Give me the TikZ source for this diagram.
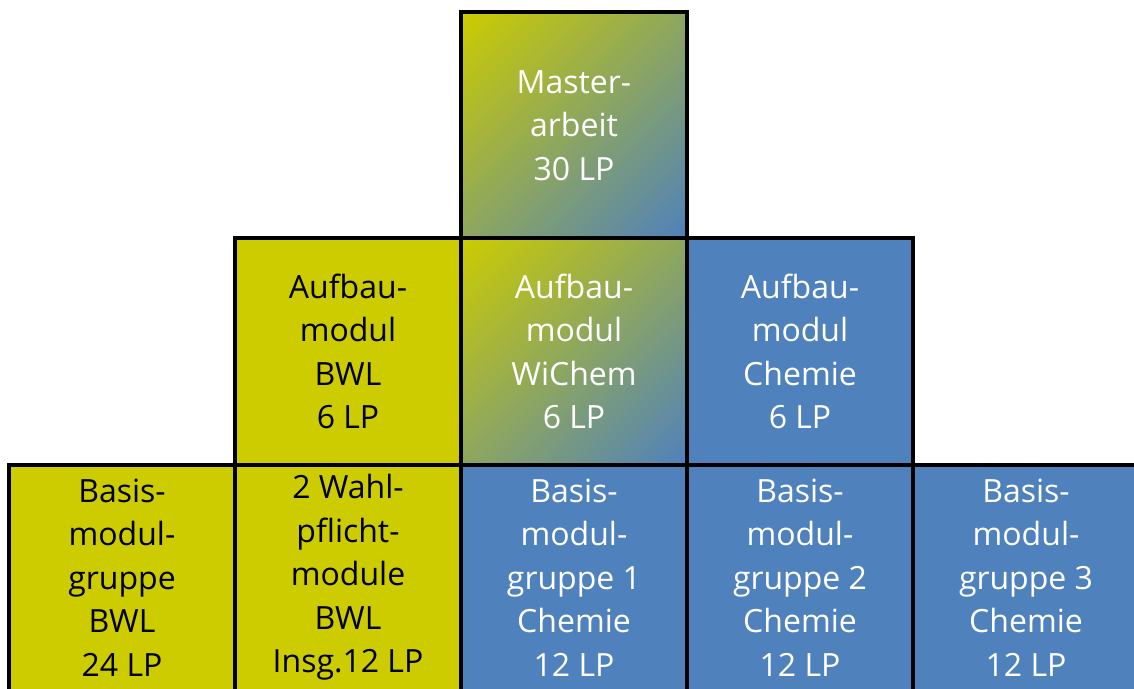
\documentclass[tikz,border=0pt]{standalone}
\usepackage{fontspec}
\setmainfont{Open Sans}
\usetikzlibrary{positioning}
\definecolor{bwl}{RGB}{204,204,0}
\definecolor{chem}{RGB}{79,129,189}
\pgfdeclareverticalshading{wichem}{100bp}{color(0bp)=(chem); color(14.6bp)=(chem);
	color(85.4bp)=(bwl); color(100bp)=(bwl)}

\begin{document}
\begin{tikzpicture}[node distance=113pt,
		module/.style={rectangle,draw=black,line width=2pt,inner sep=0pt,
			minimum width=113pt,minimum height=113pt,align=center,
			font=\fontsize{16pt}{21.75pt}\selectfont},
		bwl box/.style={module,fill=bwl,text=black},
		chem box/.style={module,fill=chem,text=white},
		mix box/.style={module,shading=wichem,shading angle=45,text=white}]

		\useasboundingbox (0pt,0pt) rectangle (567pt,-344.5pt);
		\clip (0pt,0pt) rectangle (567pt,-344.5pt);

		% Basismodule
		\node[bwl box] (bbwl) at (61pt,-288.75pt) {Basis-\\modul-\\gruppe\\BWL\\24 LP};
		\node[bwl box] (wbwl) [right of=bbwl] {2 Wahl-\\pflicht-\\module\\BWL\\Insg.12 LP};
		\node[chem box] (bc1) [right of=wbwl] {Basis-\\modul-\\gruppe 1\\Chemie\\12 LP};
		\node[chem box] (bc2) [right of=bc1] {Basis-\\modul-\\gruppe 2\\Chemie\\12 LP};
		\node[chem box] (bc3) [right of=bc2] {Basis-\\modul-\\gruppe 3\\Chemie\\12 LP};

		% Aufbaumodule
		\node[bwl box] (abwl) [above of=wbwl] {Aufbau-\\modul\\BWL\\6 LP};
		\node[mix box] (awichem) [above of=bc1] {Aufbau-\\modul\\WiChem\\6 LP};
		\node[chem box] (achem) [above of=bc2] {Aufbau-\\modul\\Chemie\\6 LP};

		\node[mix box] (master) [above of=awichem] {Master-\\arbeit\\30 LP};
\end{tikzpicture}
\end{document}
